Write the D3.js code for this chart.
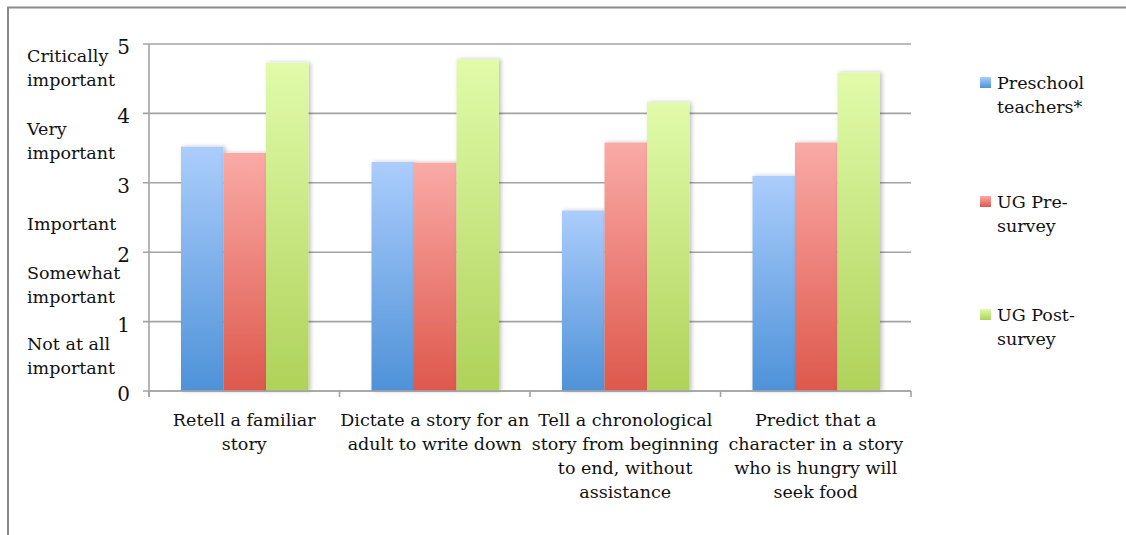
<!DOCTYPE html>
<html>
<head>
<meta charset="utf-8">
<script src="https://cdn.jsdelivr.net/npm/d3@7/dist/d3.min.js"></script>
<style>
  html, body { margin: 0; padding: 0; background: #fff; }
  svg { display: block; }
  text { font-family: "DejaVu Serif", serif; fill: #111; }
</style>
</head>
<body>
<svg id="chart" width="1126" height="535"></svg>
<script>
// Skill ratings by group (0 = not at all important … 5 = critically important)
const categories = [
  ["Retell a familiar", "story"],
  ["Dictate a story for an", "adult to write down"],
  ["Tell a chronological", "story from beginning", "to end, without", "assistance"],
  ["Predict that a", "character in a story", "who is hungry will", "seek food"]
];
const seriesNames = [["Preschool", "teachers*"], ["UG Pre-", "survey"], ["UG Post-", "survey"]];
const preschool = [3.52, 3.30, 2.60, 3.10];
const ugPre     = [3.43, 3.29, 3.58, 3.58];
const ugPost    = [4.73, 4.78, 4.16, 4.59];
const yTicks = [0, 1, 2, 3, 4, 5];
const yLabels = [
  { at: 4.66, lines: ["Critically", "important"] },
  { at: 3.6, lines: ["Very", "important"] },
  { at: 2.4, lines: ["Important"] },
  { at: 1.53, lines: ["Somewhat", "important"] },
  { at: 0.5, lines: ["Not at all", "important"] }
];

const palette = [
  { top: "#abcdfc", bottom: "#4e92d8" },
  { top: "#faaaa6", bottom: "#dd584c" },
  { top: "#e1fbaa", bottom: "#afd25a" }
];

const svg = d3.select("#chart");
const plotLeft = 149, plotRight = 911, plotTop = 44, plotBottom = 391;

const x0 = d3.scaleBand().domain(d3.range(categories.length)).range([plotLeft, plotRight]).paddingInner(0).paddingOuter(0);
const x1 = d3.scaleBand().domain(d3.range(3)).range([32, x0.bandwidth() - 31]).padding(0);
const y = d3.scaleLinear().domain([0, 5]).range([plotBottom, plotTop]);

const defs = svg.append("defs");
palette.forEach((p, i) => {
  const g = defs.append("linearGradient").attr("id", "grad" + i)
    .attr("x1", 0).attr("y1", 0).attr("x2", 0).attr("y2", 1);
  g.append("stop").attr("offset", "0%").attr("stop-color", p.top);
  g.append("stop").attr("offset", "100%").attr("stop-color", p.bottom);
});
const shadow = defs.append("filter").attr("id", "shadow")
  .attr("x", "-20%").attr("y", "-20%").attr("width", "150%").attr("height", "140%");
shadow.append("feDropShadow").attr("dx", 2).attr("dy", 0).attr("stdDeviation", 2)
  .attr("flood-color", "#000").attr("flood-opacity", 0.25);

// outer frame
svg.append("path").attr("d", "M8,535 V7.5 H1126")
  .attr("fill", "none").attr("stroke", "#8a8a8a").attr("stroke-width", 2);

// gridlines
svg.append("g").selectAll("line").data(yTicks).join("line")
  .attr("x1", plotLeft - 6).attr("x2", plotRight)
  .attr("y1", d => y(d)).attr("y2", d => y(d))
  .attr("stroke", "#a3a3a3").attr("stroke-width", 1.6);

// y tick numbers
svg.append("g").selectAll("text").data(yTicks).join("text")
  .attr("x", 130).attr("y", d => y(d) + 10)
  .attr("text-anchor", "end").attr("font-size", 20)
  .text(d => d);

// y category descriptions
const yl = svg.append("g").selectAll("text").data(yLabels).join("text")
  .attr("x", 27).attr("font-size", 17.5);
yl.each(function (d) {
  const t = d3.select(this);
  const n = d.lines.length;
  d.lines.forEach((ln, i) => {
    t.append("tspan").attr("x", 27)
      .attr("y", y(d.at) + 6 + (i - (n - 1) / 2) * 24)
      .text(ln);
  });
});

// bars
const seriesVals = [preschool, ugPre, ugPost];
const groups = svg.append("g").selectAll("g").data(categories).join("g")
  .attr("transform", (d, i) => `translate(${x0(i)},0)`);
groups.selectAll("rect")
  .data((d, i) => seriesVals.map((s, k) => ({ k, v: s[i] })))
  .join("rect")
  .attr("x", d => x1(d.k))
  .attr("width", x1.bandwidth())
  .attr("y", d => y(d.v))
  .attr("height", d => plotBottom - y(d.v))
  .attr("fill", d => `url(#grad${d.k})`)
  .attr("filter", "url(#shadow)");

// axes lines
svg.append("line").attr("x1", plotLeft).attr("x2", plotLeft).attr("y1", plotTop).attr("y2", plotBottom + 6)
  .attr("stroke", "#a3a3a3").attr("stroke-width", 1.6);
svg.append("line").attr("x1", plotLeft).attr("x2", plotRight).attr("y1", plotBottom).attr("y2", plotBottom)
  .attr("stroke", "#a3a3a3").attr("stroke-width", 1.6);
svg.append("g").selectAll("line").data(d3.range(categories.length + 1)).join("line")
  .attr("x1", i => plotLeft + i * x0.bandwidth()).attr("x2", i => plotLeft + i * x0.bandwidth())
  .attr("y1", plotBottom).attr("y2", plotBottom + 6)
  .attr("stroke", "#a3a3a3").attr("stroke-width", 1.6);

// category labels
groups.append("text")
  .attr("text-anchor", "middle").attr("font-size", 17.5)
  .each(function (d) {
    const t = d3.select(this);
    d.forEach((ln, i) => {
      t.append("tspan").attr("x", x0.bandwidth() / 2).attr("y", 426 + i * 24).text(ln);
    });
  });

// legend
const legendY = [83, 202, 315];
const leg = svg.append("g").selectAll("g").data(seriesNames).join("g")
  .attr("transform", (d, i) => `translate(980,${legendY[i]})`);
leg.append("rect").attr("x", 0).attr("y", -6).attr("width", 11).attr("height", 11)
  .attr("fill", (d, i) => `url(#grad${i})`);
leg.append("text").attr("font-size", 17.5).each(function (d) {
  const t = d3.select(this);
  d.forEach((ln, i) => t.append("tspan").attr("x", 17).attr("y", 6 + i * 24).text(ln));
});
</script>
</body>
</html>
